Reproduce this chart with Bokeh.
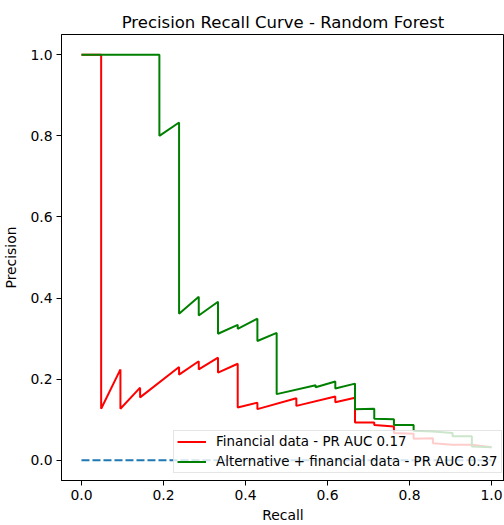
from bokeh.plotting import figure
from bokeh.models import Range1d, Legend, LegendItem, FixedTicker, PrintfTickFormatter
from bokeh.embed import file_html
from bokeh.resources import INLINE

# Precision-recall points for the two random forest models
recall_fin = [0.0, 0.048, 0.048, 0.095, 0.095, 0.143, 0.143, 0.238, 0.238, 0.286, 0.286,
              0.333, 0.333, 0.381, 0.381, 0.429, 0.429, 0.524, 0.524, 0.619, 0.619, 0.667,
              0.667, 0.714, 0.714, 0.762, 0.762, 0.81, 0.81, 0.857, 0.857, 0.905, 0.952, 1.0]
precision_fin = [1.0, 1.0, 0.127, 0.224, 0.127, 0.179, 0.155, 0.230, 0.211, 0.244, 0.224,
                 0.253, 0.216, 0.238, 0.130, 0.142, 0.126, 0.153, 0.134, 0.157, 0.143, 0.154,
                 0.093, 0.093, 0.087, 0.083, 0.067, 0.065, 0.053, 0.054, 0.042, 0.038, 0.038, 0.032]

recall_alt = [0.0, 0.19, 0.19, 0.238, 0.238, 0.286, 0.286, 0.333, 0.333, 0.381, 0.381,
              0.429, 0.429, 0.476, 0.476, 0.571, 0.571, 0.619, 0.619, 0.667, 0.667, 0.714,
              0.714, 0.762, 0.762, 0.81, 0.81, 0.857, 0.905, 0.905, 0.952, 0.952, 1.0]
precision_alt = [1.0, 1.0, 0.80, 0.833, 0.361, 0.403, 0.357, 0.391, 0.312, 0.334, 0.324,
                 0.349, 0.294, 0.314, 0.163, 0.185, 0.180, 0.194, 0.177, 0.189, 0.126, 0.127,
                 0.102, 0.101, 0.087, 0.087, 0.073, 0.071, 0.067, 0.059, 0.059, 0.034, 0.032]

# No-skill reference line
baseline_x = [0.0, 1.0]
baseline_y = [0.0, 0.0]

label_fin = "Financial data - PR AUC 0.17"
label_alt = "Alternative + financial data - PR AUC 0.37"
ticks = [0.0, 0.2, 0.4, 0.6, 0.8, 1.0]

FONT = "DejaVu Sans"

p = figure(width=504, height=525, output_backend="svg", toolbar_location=None,
           x_range=Range1d(-0.0487, 1.0316), y_range=Range1d(-0.05, 1.05),
           min_border_left=60, min_border_right=0, min_border_top=34, min_border_bottom=43,
           title="Precision Recall Curve - Random Forest")

p.title.align = "center"
p.title.text_font = FONT
p.title.text_font_size = "16.5px"
p.title.text_font_style = "normal"
p.title.text_color = "black"
p.title.offset = 3
p.title.standoff = 6

p.xgrid.visible = False
p.ygrid.visible = False
p.outline_line_color = "black"
p.outline_line_width = 1
p.background_fill_color = "white"
p.border_fill_color = "white"

for ax in (p.xaxis[0], p.yaxis[0]):
    ax.ticker = FixedTicker(ticks=ticks)
    ax.formatter = PrintfTickFormatter(format="%.1f")
    ax.major_tick_in = 0
    ax.major_tick_out = 5
    ax.minor_tick_line_color = None
    ax.axis_line_color = "black"
    ax.major_tick_line_color = "black"
    ax.major_label_text_font = FONT
    ax.major_label_text_font_size = "13.9px"
    ax.major_label_text_color = "black"
    ax.axis_label_text_font = FONT
    ax.axis_label_text_font_size = "13.9px"
    ax.axis_label_text_font_style = "normal"
    ax.axis_label_text_color = "black"
    ax.major_label_standoff = 4

p.xaxis.axis_label = "Recall"
p.yaxis.axis_label = "Precision"
p.xaxis.axis_label_standoff = 4
p.yaxis.axis_label_standoff = 8

p.line(baseline_x, baseline_y, line_color="#1f77b4", line_width=2, line_dash="8 3")
r_fin = p.line(recall_fin, precision_fin, line_color="red", line_width=2)
r_alt = p.line(recall_alt, precision_alt, line_color="green", line_width=2)

legend = Legend(items=[LegendItem(label=label_fin, renderers=[r_fin]),
                       LegendItem(label=label_alt, renderers=[r_alt])],
                location=(112, 7))
legend.label_text_font = FONT
legend.label_text_font_size = "13.4px"
legend.label_text_color = "black"
legend.glyph_width = 29
legend.glyph_height = 15
legend.label_height = 15
legend.label_standoff = 10
legend.spacing = 5
legend.padding = 3
legend.margin = 0
legend.border_line_color = "#cccccc"
legend.border_line_width = 1
legend.background_fill_color = "white"
legend.background_fill_alpha = 0.8
p.add_layout(legend, "center")

open("out.html", "w").write(file_html(p, INLINE))
